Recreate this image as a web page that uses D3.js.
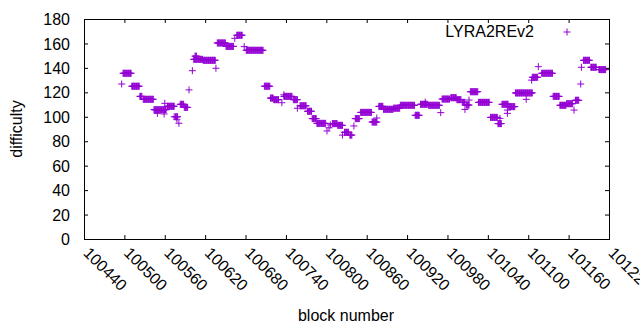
<!DOCTYPE html>
<html>
<head>
<meta charset="utf-8">
<script src="https://cdn.jsdelivr.net/npm/d3@7"></script>
<style>
  html, body { margin: 0; padding: 0; background: #fff; }
  svg { display: block; }
  text { font-family: "Liberation Sans", Arial, sans-serif; font-size: 16px; fill: #000; }
</style>
</head>
<body>
<svg id="chart" width="640" height="330"></svg>
<script>
// ---- data: runs of blocks sharing one difficulty (start block, end block, difficulty)
const seriesName = "LYRA2REv2";
const runStart = [100496,100498,100511,100523,100528,100544,100549,100556,100559,100560,100564,100574,100576,100578,100581,100583,100589,100596,100601,100603,100605,100617,100636,100638,100651,100664,100667,100678,100681,100708,100717,100722,100734,100737,100737,100751,100757,100761,100772,100779,100786,100801,100804,100806,100809,100817,100824,100827,100835,100841,100843,100851,100868,100875,100878,100885,100900,100910,100932,100940,100947,100952,100970,100972,100985,100994,101002,101006,101008,101012,101014,101026,101044,101055,101058,101061,101069,101069,101071,101081,101097,101105,101106,101115,101120,101137,101147,101157,101168,101170,101178,101179,101182,101193,101205];
const runEnd   = [100496,100510,100522,100526,100543,100555,100549,100562,100559,100560,100574,100574,100579,100578,100581,100588,100594,100596,100601,100616,100607,100635,100636,100650,100662,100664,100675,100678,100706,100716,100721,100729,100734,100749,100737,100757,100757,100770,100778,100785,100799,100801,100804,100806,100816,100824,100824,100833,100838,100841,100849,100867,100875,100875,100884,100899,100909,100931,100938,100950,100947,100968,100970,100983,100993,101000,101006,101006,101012,101012,101025,101042,101054,101060,101058,101070,101069,101069,101080,101106,101097,101105,101114,101115,101136,101146,101156,101166,101168,101175,101178,101179,101191,101201,101215];
const runDiff  = [126.8,135.6,125,116.7,114.3,105.8,102.8,105.8,102.3,111,108.6,100,100,98,94.7,110.2,107.7,122,137.7,147,149.6,146.2,139.7,160.4,157.6,164.2,166.7,157.4,154.4,125,115.3,114,111.5,116.7,118,114,107,109,104.5,98.5,94.6,88.4,91,93.3,94.4,93,85,87.3,85,92.5,98.5,103.6,95.7,99,108.5,106.1,107,109.4,101.2,110.2,112,109.4,103.4,114.5,115.6,114,111.8,106,109.6,113.7,120.5,111.8,99.5,94.4,98.7,110.2,105.5,102.8,108.3,119.5,114.3,130,132.3,141,135.6,116.7,109.4,110.7,105.5,113.5,126.8,140.5,146.2,140.5,138.6];

const xTicks = [100440,100500,100560,100620,100680,100740,100800,100860,100920,100980,101040,101100,101160,101220];
const yTicks = [0,20,40,60,80,100,120,140,160,180];
const xTitle = "block number";
const yTitle = "difficulty";

// one point per block
const points = [];
runStart.forEach((s, i) => {
  for (let b = s; b <= runEnd[i]; b++) points.push({ block: b, diff: runDiff[i] });
});

const color = "#9400d3";
const pL = 84, pR = 609, pT = 19, pB = 239;
const svg = d3.select("#chart");

const x = d3.scaleLinear().domain([xTicks[0], xTicks[xTicks.length - 1]]).range([pL, pR]);
const y = d3.scaleLinear().domain([yTicks[0], yTicks[yTicks.length - 1]]).range([pB, pT]);

const tick = 4;
const font = '"Liberation Sans", Arial, sans-serif';

// bottom axis
const gx = svg.append("g").attr("transform", `translate(0,${pB})`)
  .call(d3.axisBottom(x).tickValues(xTicks).tickFormat(d3.format("d")).tickSizeInner(-tick).tickSizeOuter(0));
gx.select(".domain").remove();
gx.selectAll("text")
  .attr("x", 0).attr("y", 0).attr("dy", null)
  .attr("text-anchor", "start")
  .attr("transform", "translate(-2,15) rotate(45)");
// top mirror ticks
const gt = svg.append("g").attr("transform", `translate(0,${pT})`)
  .call(d3.axisTop(x).tickValues(xTicks).tickFormat("").tickSizeInner(-tick).tickSizeOuter(0));
gt.select(".domain").remove();

// left axis
const gy = svg.append("g").attr("transform", `translate(${pL},0)`)
  .call(d3.axisLeft(y).tickValues(yTicks).tickSizeInner(-tick).tickSizeOuter(0).tickPadding(14));
gy.select(".domain").remove();
gy.selectAll("text").attr("dy", "0.35em");
// right mirror ticks
const gr = svg.append("g").attr("transform", `translate(${pR},0)`)
  .call(d3.axisRight(y).tickValues(yTicks).tickFormat("").tickSizeInner(-tick).tickSizeOuter(0));
gr.select(".domain").remove();

svg.selectAll(".tick line").attr("stroke", "#000");
svg.selectAll(".tick text").attr("fill", "#000").style("font-size", "16px").style("font-family", font);

// border
svg.append("rect").attr("x", pL).attr("y", pT).attr("width", pR - pL).attr("height", pB - pT)
  .attr("fill", "none").attr("stroke", "#000").attr("stroke-width", 1).attr("shape-rendering", "crispEdges");

// points as "+" markers
const ms = 3.5;
const plus = (px, py) => `M${px - ms},${py}H${px + ms}M${px},${py - ms}V${py + ms}`;
svg.append("path")
  .attr("d", points.map(p => plus(x(p.block), y(p.diff))).join(""))
  .attr("fill", "none").attr("stroke", color).attr("stroke-width", 1);

// legend
svg.append("text").attr("x", 534).attr("y", 37).attr("text-anchor", "end").text(seriesName);
svg.append("path").attr("d", plus(567, 32)).attr("stroke", color).attr("stroke-width", 1).attr("fill", "none");

// titles
svg.append("text").attr("x", 346).attr("y", 321).attr("text-anchor", "middle").text(xTitle);
svg.append("text").attr("transform", `translate(22,${(pT + pB) / 2}) rotate(-90)`)
  .attr("text-anchor", "middle").text(yTitle);
</script>
</body>
</html>
